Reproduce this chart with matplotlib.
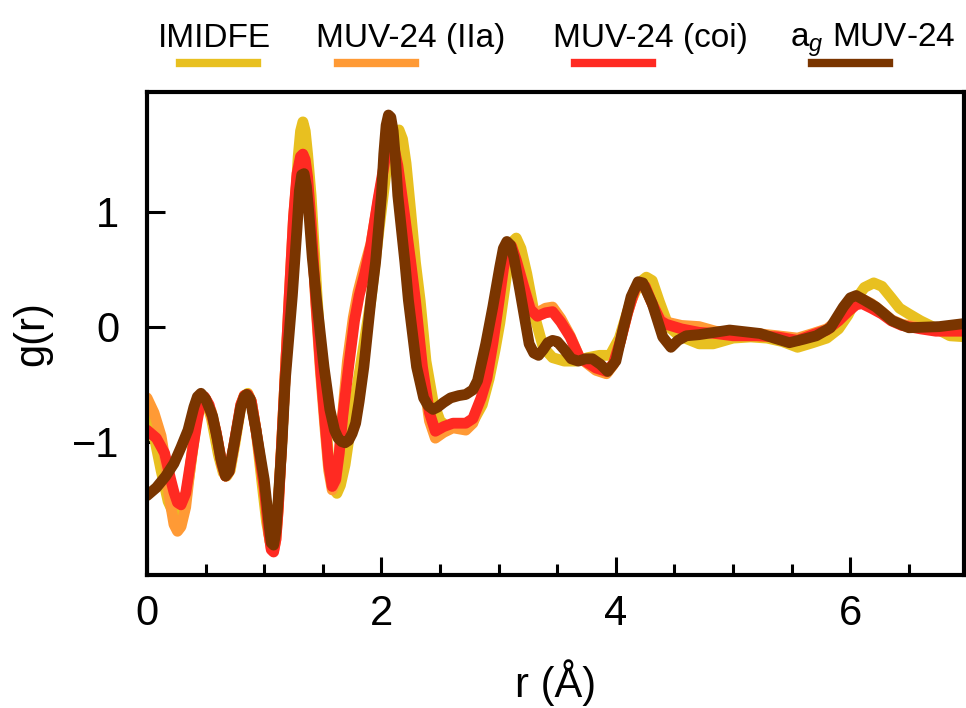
import matplotlib
matplotlib.use("Agg")
import matplotlib.pyplot as plt
from matplotlib.lines import Line2D
from matplotlib.ticker import MultipleLocator

plt.rcParams["font.family"] = ["Liberation Sans", "DejaVu Sans"]
plt.rcParams["mathtext.fontset"] = "custom"
plt.rcParams["mathtext.rm"] = "Liberation Sans"
plt.rcParams["mathtext.it"] = "Liberation Sans:italic"

# pair distribution functions, (r in angstrom, g(r))
imidfe = [(0.0, -0.75), (0.06, -0.95), (0.12, -1.25), (0.18, -1.52), (0.23, -1.63), (0.27, -1.65),
          (0.31, -1.58), (0.36, -1.3), (0.41, -0.92), (0.44, -0.7), (0.47, -0.61), (0.5, -0.63),
          (0.55, -0.8), (0.61, -1.12), (0.65, -1.27), (0.68, -1.3), (0.71, -1.25), (0.75, -1.02),
          (0.8, -0.7), (0.83, -0.6), (0.86, -0.58), (0.89, -0.65), (0.93, -0.9), (0.98, -1.35),
          (1.02, -1.7), (1.05, -1.87), (1.08, -1.9), (1.11, -1.7), (1.15, -1.0), (1.19, -0.2),
          (1.23, 0.4), (1.27, 1.14), (1.29, 1.48), (1.31, 1.70), (1.33, 1.78), (1.35, 1.70),
          (1.37, 1.5), (1.40, 1.14), (1.45, 0.28), (1.50, -0.5), (1.55, -1.15), (1.59, -1.4),
          (1.62, -1.45), (1.65, -1.38), (1.69, -1.2), (1.75, -0.78), (1.82, -0.35), (1.91, 0.23),
          (1.98, 0.85), (2.04, 1.35), (2.08, 1.58), (2.12, 1.69), (2.15, 1.71), (2.18, 1.63),
          (2.21, 1.42), (2.25, 1.0), (2.29, 0.56), (2.33, 0.23), (2.38, -0.3), (2.44, -0.65),
          (2.5, -0.82), (2.56, -0.87), (2.64, -0.86), (2.72, -0.86), (2.79, -0.81), (2.86, -0.68),
          (2.92, -0.45), (2.97, -0.2), (3.01, 0.03), (3.05, 0.32), (3.09, 0.62), (3.12, 0.74),
          (3.15, 0.77), (3.19, 0.68), (3.24, 0.46), (3.31, 0.08), (3.38, -0.18), (3.46, -0.27),
          (3.56, -0.3), (3.66, -0.3), (3.76, -0.27), (3.86, -0.25), (3.95, -0.25), (4.03, -0.1),
          (4.12, 0.2), (4.2, 0.38), (4.26, 0.43), (4.31, 0.4), (4.37, 0.22), (4.45, 0.0),
          (4.54, -0.08), (4.71, -0.15), (4.83, -0.15), (5.0, -0.1), (5.15, -0.09), (5.29, -0.1),
          (5.42, -0.13), (5.55, -0.18), (5.68, -0.14), (5.8, -0.1), (5.9, -0.02), (5.98, 0.1),
          (6.05, 0.24), (6.12, 0.34), (6.2, 0.38), (6.27, 0.35), (6.35, 0.25), (6.42, 0.16),
          (6.5, 0.11), (6.6, 0.05), (6.68, 0.01), (6.85, -0.08), (7.0, -0.09)]

muv24IIa = [(0.0, -0.62), (0.06, -0.75), (0.12, -0.95), (0.16, -1.2), (0.19, -1.48), (0.23, -1.72),
            (0.26, -1.78), (0.29, -1.74), (0.33, -1.57), (0.39, -1.04), (0.44, -0.67), (0.47, -0.6),
            (0.5, -0.63), (0.55, -0.74), (0.59, -0.92), (0.64, -1.2), (0.67, -1.3), (0.7, -1.26),
            (0.74, -1.04), (0.8, -0.68), (0.83, -0.6), (0.86, -0.59), (0.89, -0.65), (0.93, -0.9),
            (1.0, -1.4), (1.04, -1.8), (1.06, -1.93), (1.08, -1.95), (1.10, -1.85), (1.12, -1.58),
            (1.17, -0.6), (1.21, 0.2), (1.25, 0.95), (1.28, 1.3), (1.31, 1.43), (1.33, 1.45),
            (1.35, 1.41), (1.37, 1.27), (1.40, 0.9), (1.44, 0.2), (1.48, -0.4), (1.52, -0.9),
            (1.55, -1.25), (1.58, -1.42), (1.61, -1.35), (1.64, -1.1), (1.67, -0.75), (1.71, -0.3),
            (1.76, 0.08), (1.80, 0.3), (1.85, 0.5), (1.91, 0.72), (1.97, 1.08), (2.03, 1.42),
            (2.05, 1.49), (2.08, 1.52), (2.11, 1.49), (2.14, 1.36), (2.2, 0.92), (2.25, 0.52),
            (2.29, 0.18), (2.35, -0.4), (2.41, -0.82), (2.46, -0.97), (2.53, -0.92), (2.61, -0.88),
            (2.72, -0.9), (2.78, -0.84), (2.85, -0.64), (2.9, -0.46), (2.95, -0.15), (3.0, 0.2),
            (3.04, 0.48), (3.08, 0.68), (3.11, 0.68), (3.15, 0.58), (3.21, 0.37), (3.27, 0.18),
            (3.33, 0.12), (3.4, 0.16), (3.46, 0.17), (3.53, 0.07), (3.61, -0.08), (3.69, -0.27),
            (3.83, -0.38), (3.92, -0.41), (3.98, -0.33), (4.04, -0.12), (4.1, 0.12), (4.16, 0.31),
            (4.2, 0.36), (4.25, 0.34), (4.31, 0.2), (4.38, 0.07), (4.43, 0.04), (4.56, 0.01),
            (4.71, 0.0), (4.85, -0.04), (5.0, -0.06), (5.2, -0.06), (5.38, -0.08), (5.55, -0.1),
            (5.68, -0.06), (5.8, -0.02), (5.9, 0.06), (5.98, 0.15), (6.05, 0.22), (6.1, 0.24),
            (6.18, 0.2), (6.27, 0.13), (6.35, 0.06), (6.44, 0.02), (6.6, -0.01), (6.73, -0.03),
            (7.0, -0.03)]

muv24Coi = [(0.0, -0.90), (0.08, -0.97), (0.15, -1.1), (0.2, -1.32), (0.23, -1.44), (0.26, -1.53),
            (0.29, -1.55), (0.33, -1.45), (0.37, -1.19), (0.43, -0.81), (0.46, -0.65), (0.49, -0.61),
            (0.53, -0.68), (0.59, -0.92), (0.64, -1.2), (0.67, -1.3), (0.7, -1.26), (0.74, -1.04),
            (0.8, -0.68), (0.83, -0.6), (0.86, -0.59), (0.89, -0.65), (0.93, -0.9), (1.0, -1.4),
            (1.04, -1.8), (1.06, -1.94), (1.08, -1.96), (1.10, -1.85), (1.12, -1.58), (1.17, -0.6),
            (1.21, 0.2), (1.25, 0.95), (1.28, 1.33), (1.31, 1.48), (1.33, 1.5), (1.35, 1.45),
            (1.37, 1.3), (1.40, 0.9), (1.44, 0.23), (1.48, -0.35), (1.52, -0.85), (1.55, -1.2),
            (1.58, -1.39), (1.61, -1.33), (1.64, -1.1), (1.67, -0.78), (1.72, -0.35), (1.77, 0.05),
            (1.81, 0.27), (1.86, 0.47), (1.91, 0.71), (1.97, 1.1), (2.03, 1.45), (2.05, 1.54),
            (2.08, 1.58), (2.11, 1.54), (2.14, 1.4), (2.2, 0.95), (2.25, 0.56), (2.29, 0.23),
            (2.35, -0.35), (2.41, -0.75), (2.46, -0.91), (2.53, -0.87), (2.61, -0.84), (2.72, -0.84),
            (2.78, -0.8), (2.85, -0.62), (2.9, -0.45), (2.95, -0.15), (3.0, 0.2), (3.04, 0.5),
            (3.08, 0.7), (3.11, 0.7), (3.15, 0.58), (3.21, 0.36), (3.27, 0.15), (3.33, 0.09),
            (3.4, 0.12), (3.46, 0.13), (3.53, 0.04), (3.61, -0.09), (3.69, -0.27), (3.83, -0.36),
            (3.92, -0.39), (3.98, -0.32), (4.04, -0.12), (4.1, 0.12), (4.16, 0.32), (4.2, 0.38),
            (4.25, 0.35), (4.31, 0.2), (4.38, 0.05), (4.43, 0.02), (4.56, -0.02), (4.71, -0.05),
            (4.85, -0.06), (5.0, -0.08), (5.2, -0.08), (5.38, -0.09), (5.55, -0.12), (5.68, -0.07),
            (5.8, -0.03), (5.9, 0.05), (5.98, 0.13), (6.05, 0.19), (6.1, 0.2), (6.18, 0.16),
            (6.27, 0.11), (6.35, 0.05), (6.44, 0.01), (6.6, -0.02), (6.73, -0.04), (7.0, -0.04)]

agMuv24 = [(0.0, -1.47), (0.08, -1.4), (0.16, -1.3), (0.23, -1.19), (0.29, -1.05), (0.35, -0.9),
           (0.4, -0.7), (0.43, -0.61), (0.46, -0.58), (0.5, -0.63), (0.56, -0.78), (0.6, -0.98),
           (0.63, -1.15), (0.67, -1.3), (0.7, -1.26), (0.74, -1.04), (0.8, -0.7), (0.83, -0.61),
           (0.85, -0.59), (0.88, -0.63), (0.93, -0.9), (1.0, -1.33), (1.04, -1.71), (1.06, -1.88),
           (1.08, -1.9), (1.10, -1.78), (1.12, -1.5), (1.15, -1.04), (1.18, -0.46), (1.24, 0.27),
           (1.28, 0.86), (1.30, 1.18), (1.32, 1.32), (1.34, 1.33), (1.36, 1.22), (1.38, 1.0),
           (1.41, 0.6), (1.45, 0.2), (1.51, -0.35), (1.56, -0.72), (1.60, -0.9), (1.63, -0.97),
           (1.66, -1.0), (1.69, -1.01), (1.72, -0.99), (1.75, -0.93), (1.78, -0.84), (1.81, -0.65),
           (1.85, -0.35), (1.91, 0.23), (1.95, 0.56), (2.0, 1.14), (2.02, 1.5), (2.04, 1.75),
           (2.06, 1.84), (2.08, 1.82), (2.10, 1.7), (2.12, 1.45), (2.14, 1.14), (2.20, 0.56),
           (2.23, 0.23), (2.30, -0.35), (2.36, -0.62), (2.40, -0.69), (2.44, -0.72), (2.48, -0.70),
           (2.53, -0.66), (2.59, -0.62), (2.66, -0.6), (2.72, -0.59), (2.78, -0.55), (2.82, -0.47),
           (2.89, -0.15), (2.95, 0.17), (3.01, 0.52), (3.04, 0.68), (3.07, 0.74), (3.10, 0.71),
           (3.13, 0.6), (3.18, 0.32), (3.26, -0.15), (3.30, -0.23), (3.34, -0.25), (3.38, -0.2),
           (3.42, -0.14), (3.46, -0.12), (3.5, -0.13), (3.56, -0.2), (3.62, -0.28), (3.68, -0.3),
           (3.74, -0.28), (3.8, -0.28), (3.87, -0.33), (3.93, -0.39), (4.0, -0.3), (4.06, -0.03),
           (4.13, 0.26), (4.19, 0.39), (4.23, 0.38), (4.31, 0.2), (4.4, -0.09), (4.47, -0.18),
           (4.53, -0.12), (4.6, -0.08), (4.71, -0.07), (4.97, -0.03), (5.23, -0.06), (5.35, -0.1),
           (5.48, -0.14), (5.6, -0.11), (5.71, -0.08), (5.83, -0.01), (5.94, 0.17), (6.0, 0.25),
           (6.05, 0.27), (6.12, 0.23), (6.22, 0.17), (6.36, 0.05), (6.5, -0.01), (6.76, 0.0),
           (7.0, 0.03)]

labels = ["IMIDFE", "MUV-24 (IIa)", "MUV-24 (coi)", r"a$_g$ MUV-24"]
colours = ["#E8C020", "#FF9A35", "#FF2A22", "#7A3500"]

fig = plt.figure(figsize=(9.66, 7.08), dpi=100)
ax = fig.add_axes([147 / 966, 133 / 708, 817 / 966, 483 / 708])

for pts, colour in zip([imidfe, muv24IIa, muv24Coi, agMuv24], colours):
    r, g = zip(*pts)
    ax.plot(r, g, color=colour, linewidth=7.8, solid_joinstyle="round",
            solid_capstyle="round")

ax.set_xlim(0, 6.97)
ax.set_ylim(-2.16, 2.04)
ax.xaxis.set_major_locator(MultipleLocator(2))
ax.xaxis.set_minor_locator(MultipleLocator(0.5))
ax.set_yticks([-1, 0, 1])
ax.tick_params(axis="both", which="major", direction="in", length=13, width=2.2,
               labelsize=30, pad=14)
ax.tick_params(axis="x", which="minor", direction="in", length=8, width=2.2)
ax.tick_params(axis="y", which="major", pad=20)
for spine in ax.spines.values():
    spine.set_linewidth(3)

ax.set_xlabel("r (Å)", fontsize=30, labelpad=18)
ax.set_ylabel("g(r)", fontsize=30, labelpad=14)

# legend along the top: name above a short colour bar
textLeft = [158, 316, 553, 790]
for lab, colour, x0 in zip(labels, colours, textLeft):
    fig.text(x0 / 966, 1 - 47 / 708, lab, fontsize=24, ha="left", va="baseline")
    fig.add_artist(Line2D([(x0 + 22) / 966, (x0 + 99) / 966], [1 - 63 / 708] * 2,
                          color=colour, linewidth=6, transform=fig.transFigure))

fig.savefig("out.png", dpi=100, facecolor="white")
